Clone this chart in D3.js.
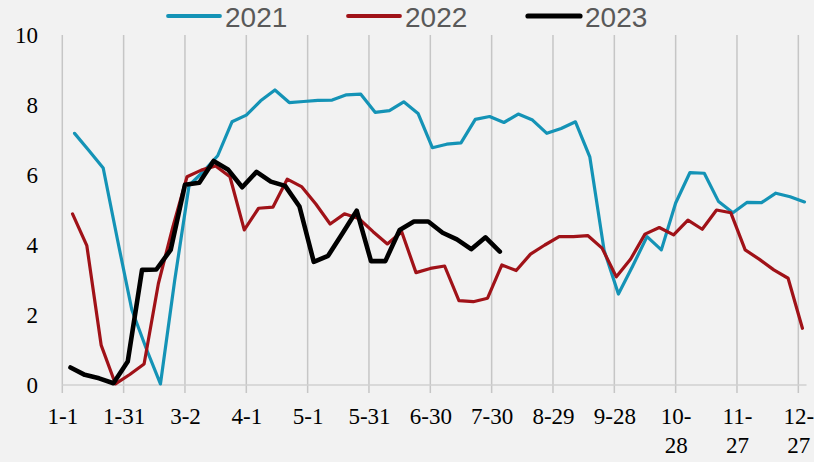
<!DOCTYPE html>
<html>
<head>
<meta charset="utf-8">
<script src="https://cdn.jsdelivr.net/npm/d3@7"></script>
<style>
  body { margin: 0; background: #f2f2f2; }
  svg { display: block; }
</style>
</head>
<body>
<div class="grafico"></div>
<script>
// weekly readings, each year starts on its first Thursday
var seriesNames = ["2021", "2022", "2023"];
var startDays = ["1-7", "1-6", "1-5"];

var values2021 = [7.19, 6.7, 6.2, 4.15, 2.15, 1.05, 0.03, 3.0, 5.7, 6.1,
  6.55, 7.52, 7.71, 8.12, 8.43, 8.07, 8.1, 8.13, 8.14, 8.29,
  8.31, 7.79, 7.84, 8.09, 7.76, 6.78, 6.88, 6.92, 7.59, 7.67,
  7.5, 7.74, 7.57, 7.19, 7.33, 7.52, 6.52, 3.85, 2.6, 3.4,
  4.24, 3.86, 5.2, 6.07, 6.05, 5.24, 4.92, 5.22, 5.21, 5.48,
  5.38, 5.23];

var values2022 = [4.89, 3.98, 1.14, 0.03, 0.3, 0.6, 2.9, 4.5, 5.95, 6.14,
  6.26, 5.95, 4.43, 5.05, 5.08, 5.88, 5.67, 5.17, 4.6, 4.89,
  4.76, 4.38, 4.03, 4.38, 3.21, 3.33, 3.4, 2.41, 2.38, 2.48,
  3.43, 3.27, 3.74, 4.0, 4.24, 4.24, 4.27, 3.91, 3.09, 3.6,
  4.31, 4.5, 4.29, 4.71, 4.45, 5.0, 4.92, 3.86, 3.59, 3.29,
  3.05, 1.62];

var values2023 = [0.5, 0.29, 0.19, 0.05, 0.67, 3.29, 3.3, 3.86, 5.72, 5.78,
  6.4, 6.16, 5.65, 6.09, 5.81, 5.69, 5.1, 3.52, 3.69, 4.33,
  4.98, 3.54, 3.54, 4.43, 4.67, 4.67, 4.35, 4.16, 3.88, 4.22,
  3.81];

var tickLabels = ["1-1", "1-31", "3-2", "4-1", "5-1", "5-31", "6-30",
  "7-30", "8-29", "9-28", "10-28", "11-27", "12-27"];
var yTicks = [0, 2, 4, 6, 8, 10];

var colors = ["#1493b6", "#a01218", "#000000"];
var widths = [3.2, 3.2, 4.6];

var width = 814, height = 462;
var baseYear = 2021;

function toDate(s, extraDays) {
  var p = s.split("-");
  return new Date(baseYear, +p[0] - 1, +p[1] + (extraDays || 0));
}

var allValues = [values2021, values2022, values2023];
var series = seriesNames.map(function(name, i) {
  return {
    name: name,
    color: colors[i],
    width: widths[i],
    points: allValues[i].map(function(v, j) {
      return { date: toDate(startDays[i], j * 7), value: v };
    })
  };
});

var svg = d3.select(".grafico")
  .append("svg")
  .attr("width", width)
  .attr("height", height);

svg.append("rect")
  .attr("width", width)
  .attr("height", height)
  .attr("fill", "#f2f2f2");

// escalas
var x = d3.scaleTime()
  .domain([new Date(baseYear, 0, 1), new Date(baseYear, 11, 31)])
  .range([62.3, 806.5]);

var y = d3.scaleLinear()
  .domain([0, 10])
  .range([385, 35]);

var tickDates = tickLabels.map(function(t) { return toDate(t); });

// linhas verticais de grade
svg.append("g")
  .selectAll("line")
  .data(tickDates)
  .enter()
  .append("line")
  .attr("x1", function(d) { return x(d); })
  .attr("x2", function(d) { return x(d); })
  .attr("y1", y(10))
  .attr("y2", y(0) + 8)
  .attr("stroke", "#c6c6c6")
  .attr("stroke-width", 1.5);

// eixo x
var xAxis = d3.axisBottom(x)
  .tickValues(tickDates)
  .tickSize(0)
  .tickPadding(0)
  .tickFormat(function(d, i) { return tickLabels[i]; });

var gx = svg.append("g")
  .attr("transform", "translate(0," + y(0) + ")")
  .call(xAxis);

gx.select(".domain")
  .attr("stroke", "#d0d0d0")
  .attr("stroke-width", 1.5)
  .attr("d", "M" + x.range()[0] + ",0H" + x.range()[1]);

gx.selectAll(".tick text")
  .attr("font-family", "'Liberation Serif', 'Times New Roman', serif")
  .attr("font-size", 23)
  .attr("fill", "#000")
  .attr("y", 0)
  .attr("dy", 0)
  .each(function(d, i) {
    var label = tickLabels[i];
    var t = d3.select(this).text(null);
    if (label.length > 4) {
      var k = label.indexOf("-") + 1;
      t.append("tspan").attr("x", 0).attr("y", 39).text(label.slice(0, k));
      t.append("tspan").attr("x", 0).attr("y", 68).text(label.slice(k));
    } else {
      t.append("tspan").attr("x", 0).attr("y", 39).text(label);
    }
  });

// eixo y
var yAxis = d3.axisLeft(y)
  .tickValues(yTicks)
  .tickSize(0)
  .tickPadding(0);

var gy = svg.append("g")
  .attr("transform", "translate(38,0)")
  .call(yAxis);

gy.select(".domain").remove();
gy.selectAll(".tick text")
  .attr("font-family", "'Liberation Serif', 'Times New Roman', serif")
  .attr("font-size", 23)
  .attr("fill", "#000")
  .attr("x", 0)
  .attr("dy", "0.34em");

// linhas das series
var line = d3.line()
  .x(function(d) { return x(d.date); })
  .y(function(d) { return y(d.value); });

svg.append("g")
  .selectAll("path")
  .data(series)
  .enter()
  .append("path")
  .attr("d", function(d) { return line(d.points); })
  .attr("fill", "none")
  .attr("stroke", function(d) { return d.color; })
  .attr("stroke-width", function(d) { return d.width; })
  .attr("stroke-linejoin", "round")
  .attr("stroke-linecap", "round");

// legenda
var legend = svg.append("g")
  .selectAll("g")
  .data(series)
  .enter()
  .append("g")
  .attr("transform", function(d, i) { return "translate(" + (168 + i * 180) + ",16)"; });

legend.append("line")
  .attr("x1", 0)
  .attr("x2", 52)
  .attr("stroke", function(d) { return d.color; })
  .attr("stroke-width", function(d) { return d.width + 0.6; })
  .attr("stroke-linecap", "round");

legend.append("text")
  .attr("x", 57)
  .attr("y", 10.8)
  .attr("font-family", "'Liberation Sans', Arial, sans-serif")
  .attr("font-size", 28)
  .attr("fill", "#595959")
  .text(function(d) { return d.name; });
</script>
</body>
</html>
